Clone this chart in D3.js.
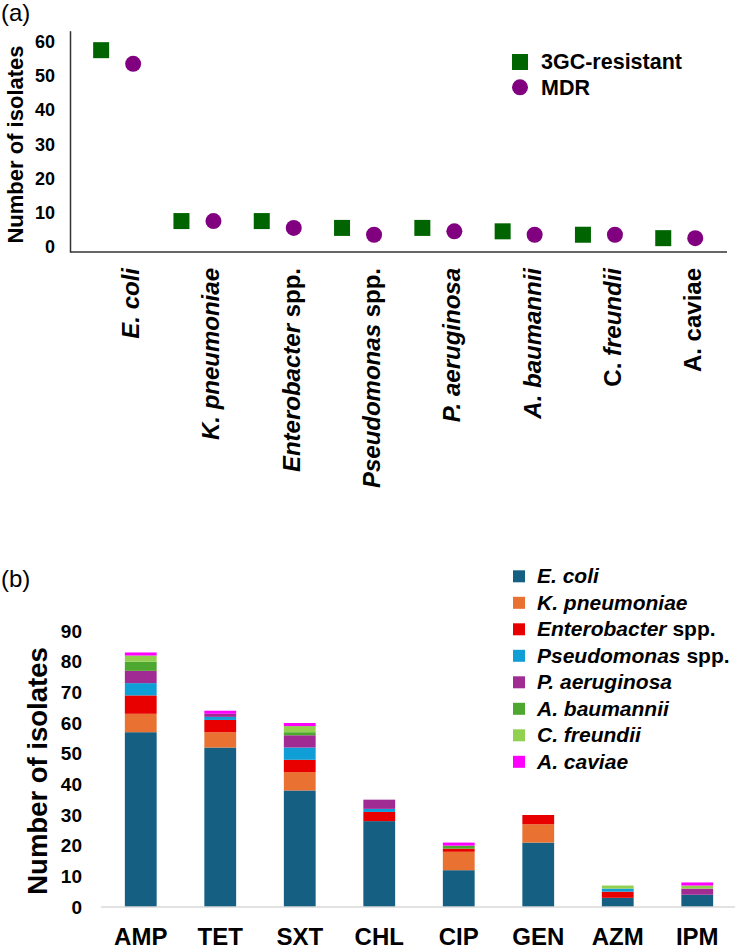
<!DOCTYPE html>
<html>
<head>
<meta charset="utf-8">
<script src="https://cdn.jsdelivr.net/npm/d3@7"></script>
<style>
  body { margin: 0; background: #fff; }
  svg { display: block; }
  text { font-family: "Liberation Sans", Arial, sans-serif; font-weight: bold; fill: #000; }
</style>
</head>
<body>
<svg id="dessin" width="735" height="951"></svg>
<script>
// especes (panneau a + legende b)
let especes = ["E. coli", "K. pneumoniae", "Enterobacter spp.", "Pseudomonas spp.",
               "P. aeruginosa", "A. baumannii", "C. freundii", "A. caviae"];
let resistant3GC = [57, 7, 7, 5, 5, 4, 3, 2];
let mdr = [53, 7, 5, 3, 4, 3, 3, 2];
let ticksA = [0, 10, 20, 30, 40, 50, 60];

// panneau b : isolats resistants par antibiotique
let antibiotiques = ["AMP", "TET", "SXT", "CHL", "CIP", "GEN", "AZM", "IPM"];
let eColi        = [57, 52, 38, 28, 12, 21, 3, 4];
let kPneumoniae  = [6, 5, 6, 0, 6, 6, 0, 0];
let enterobacter = [6, 4, 4, 3, 1, 3, 2, 0];
let pseudomonas  = [4, 1, 4, 1, 0, 0, 1, 0];
let pAeruginosa  = [4, 1, 4, 3, 0, 0, 0, 2];
let aBaumannii   = [3, 0, 1, 0, 1, 0, 0, 0];
let cFreundii    = [2, 0, 2, 0, 0, 0, 1, 1];
let aCaviae      = [1, 1, 1, 0, 1, 0, 0, 1];
let ticksB = [0, 10, 20, 30, 40, 50, 60, 70, 80, 90];

let couleurs = ["#156082", "#e97132", "#e80000", "#0f9ed5", "#a02b93", "#4ea72e", "#92d050", "#ff00ff"];
let serieB = [eColi, kPneumoniae, enterobacter, pseudomonas, pAeruginosa, aBaumannii, cFreundii, aCaviae];

const svg = d3.select("#dessin");

// morceaux d'un nom : genre/espece en italique, "spp." droit
function morceaux(nom, droit) {
  if (droit === "tout") return [{ t: nom, it: false }];
  if (droit === "genre") {
    let p = nom.split(" ");
    return [{ t: p[0] + " ", it: false }, { t: p.slice(1).join(" "), it: true }];
  }
  if (nom.endsWith(" spp.")) return [{ t: nom.replace(" spp.", " "), it: true }, { t: "spp.", it: false }];
  return [{ t: nom, it: true }];
}
function ecrire(sel, nom, droit) {
  sel.selectAll("tspan")
    .data(morceaux(nom, droit))
    .enter()
    .append("tspan")
    .style("font-style", d => d.it ? "italic" : "normal")
    .text(d => d.t);
}

// ---------- panneau (a) ----------
svg.append("text").attr("x", 1).attr("y", 21)
  .style("font-weight", "normal").style("font-size", "24px").text("(a)");

const xA = d3.scaleBand().domain(especes).range([77, 719.4]);
const yA = d3.scaleLinear().domain([-2.05, 62.7]).range([252, 30.7]);

const axeA = d3.axisLeft(yA).tickValues(ticksA).tickSize(0).tickSizeOuter(0).tickPadding(15);
const gA = svg.append("g").attr("transform", "translate(70,0)").call(axeA);
gA.select(".domain").attr("stroke", "#333").attr("stroke-width", 1.5);
gA.selectAll("text").attr("dy", "0.42em").style("font-size", "18px").attr("fill", "#000");

svg.append("line")
  .attr("x1", 70).attr("x2", 727).attr("y1", yA(-2.05)).attr("y2", yA(-2.05))
  .attr("stroke", "#333").attr("stroke-width", 1.5);

svg.append("text")
  .attr("transform", "translate(23,144.5) rotate(-90)")
  .attr("text-anchor", "middle").style("font-size", "22px")
  .text("Number of isolates");

const centreA = d => xA(d) + xA.bandwidth() / 2;

svg.selectAll(".carre")
  .data(especes)
  .enter()
  .append("rect")
  .attr("class", "carre")
  .attr("x", d => centreA(d) - 16 - 8)
  .attr("y", (d, i) => yA(resistant3GC[i]) - 8)
  .attr("width", 16).attr("height", 16)
  .attr("fill", "#006400");

svg.selectAll(".rond")
  .data(especes)
  .enter()
  .append("circle")
  .attr("class", "rond")
  .attr("cx", d => centreA(d) + 16)
  .attr("cy", (d, i) => yA(mdr[i]))
  .attr("r", 8)
  .attr("fill", "#800080");

svg.selectAll(".etiqA")
  .data(especes)
  .enter()
  .append("text")
  .attr("class", "etiqA")
  .attr("transform", d => `translate(${centreA(d) + 22},268) rotate(-90)`)
  .attr("text-anchor", "end")
  .style("font-size", "24px")
  .each(function (d) {
    let droit = d === "A. caviae" ? "tout" : (d === "C. freundii" ? "genre" : null);
    ecrire(d3.select(this), d, droit);
  });

// legende a
svg.append("rect").attr("x", 512).attr("y", 54).attr("width", 16).attr("height", 16).attr("fill", "#006400");
svg.append("circle").attr("cx", 520).attr("cy", 87.3).attr("r", 8).attr("fill", "#800080");
svg.append("text").attr("x", 541).attr("y", 69).style("font-size", "21.5px").text("3GC-resistant");
svg.append("text").attr("x", 541).attr("y", 95).style("font-size", "21.5px").text("MDR");

// ---------- panneau (b) ----------
svg.append("text").attr("x", 1).attr("y", 587)
  .style("font-weight", "normal").style("font-size", "24px").text("(b)");

let tableB = antibiotiques.map((a, i) => {
  let ligne = { ab: a };
  especes.forEach((e, k) => { ligne[e] = serieB[k][i]; });
  return ligne;
});
const pile = d3.stack().keys(especes)(tableB);

const xB = d3.scaleBand().domain(antibiotiques).range([101, 737]).paddingInner(0.6).paddingOuter(0.3);
const yB = d3.scaleLinear().domain([0, 90]).range([907, 631]);

const axeB = d3.axisLeft(yB).tickValues(ticksB).tickSize(0).tickPadding(0);
const gB = svg.append("g").attr("transform", "translate(82,0)").call(axeB);
gB.select(".domain").remove();
gB.selectAll("text").style("font-size", "19px").attr("fill", "#000");

svg.append("text")
  .attr("transform", "translate(47,771) rotate(-90)")
  .attr("text-anchor", "middle").style("font-size", "27.5px")
  .text("Number of isolates");

svg.append("g")
  .selectAll("g")
  .data(pile)
  .enter()
  .append("g")
  .attr("fill", (d, i) => couleurs[i])
  .selectAll("rect")
  .data(d => d)
  .enter()
  .append("rect")
  .attr("x", d => xB(d.data.ab))
  .attr("y", d => yB(d[1]))
  .attr("width", xB.bandwidth())
  .attr("height", d => yB(d[0]) - yB(d[1]));

svg.append("line")
  .attr("x1", 101).attr("x2", 735).attr("y1", yB(0)).attr("y2", yB(0))
  .attr("stroke", "#d9d9d9").attr("stroke-width", 1.5);

svg.selectAll(".etiqB")
  .data(antibiotiques)
  .enter()
  .append("text")
  .attr("class", "etiqB")
  .attr("x", d => xB(d) + xB.bandwidth() / 2)
  .attr("y", 945)
  .attr("text-anchor", "middle")
  .style("font-size", "24px")
  .text(d => d);

// legende b
const legB = svg.selectAll(".legB")
  .data(especes)
  .enter()
  .append("g")
  .attr("class", "legB")
  .attr("transform", (d, i) => `translate(513,${570.3 + i * 26.5})`);
legB.append("rect").attr("width", 12).attr("height", 12).attr("fill", (d, i) => couleurs[i]);
legB.append("text").attr("x", 24).attr("y", 13).style("font-size", "21px")
  .each(function (d) { ecrire(d3.select(this), d, null); });
</script>
</body>
</html>
